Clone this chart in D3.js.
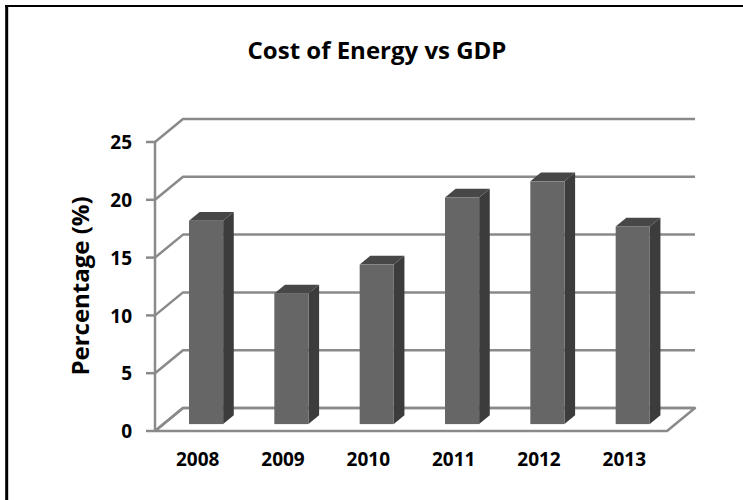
<!DOCTYPE html>
<html>
<head>
<meta charset="utf-8">
<script src="https://cdn.jsdelivr.net/npm/d3@7"></script>
<style>
  html, body { margin: 0; padding: 0; background: #fff; }
  svg { display: block; }
  text { font-family: "Open Sans", "DejaVu Sans", sans-serif; font-weight: 700; fill: #000; }
</style>
</head>
<body>
<script>
const categories = ["2008", "2009", "2010", "2011", "2012", "2013"];
const values = [17.6, 11.3, 13.8, 19.6, 21.0, 17.1];
const yTicks = [0, 5, 10, 15, 20, 25];
const chartTitle = "Cost of Energy vs GDP";
const yTitle = "Percentage (%)";

const W = 743, H = 500;
const svg = d3.select("body").append("svg").attr("width", W).attr("height", H);

// plot geometry (front plane)
const x0 = 155, x1 = 667, yBase = 431, yTop = 142;
const depthX = 28, depthY = 23;   // full depth offset of back wall
const f1 = 0.30, f2 = 0.68;       // bar front / back depth fractions

const x = d3.scaleBand().domain(categories).range([x0, x1]).paddingInner(0.6).paddingOuter(0.3);
const y = d3.scaleLinear().domain([0, 25]).range([yBase, yTop]);

const gridColor = "#8a8a8a";

// outer frame
svg.append("line").attr("x1", 5).attr("x2", W).attr("y1", 6).attr("y2", 6)
  .attr("stroke", "#000").attr("stroke-width", 2);
svg.append("line").attr("x1", 6.7).attr("x2", 6.7).attr("y1", 5).attr("y2", H)
  .attr("stroke", "#000").attr("stroke-width", 3);

// title
svg.append("text").attr("x", 377).attr("y", 59).attr("text-anchor", "middle")
  .attr("font-size", 24).text(chartTitle);

// floor
const floor = [[x0, yBase], [x1, yBase], [x1 + depthX, yBase - depthY], [x0 + depthX, yBase - depthY]];
svg.append("polygon").attr("points", floor.map(p => p.join(",")).join(" "))
  .attr("fill", "#fff").attr("stroke", gridColor).attr("stroke-width", 2.5).attr("stroke-linejoin", "round");

// gridlines: side wall diagonal + back wall horizontal
const grid = svg.append("g").attr("fill", "none").attr("stroke", gridColor).attr("stroke-width", 2.5)
  .attr("stroke-linejoin", "round");
yTicks.forEach(v => {
  grid.append("polyline").attr("points", [
    [x0, y(v)], [x0 + depthX, y(v) - depthY], [x1 + depthX, y(v) - depthY]
  ].map(p => p.join(",")).join(" "));
});

// front vertical axis with ticks
const axis = svg.append("g").attr("stroke", gridColor).attr("stroke-width", 2.5);
axis.append("line").attr("x1", x0).attr("x2", x0).attr("y1", y(25)).attr("y2", y(0));
yTicks.forEach(v => {
  axis.append("line").attr("x1", x0 - 9).attr("x2", x0).attr("y1", y(v)).attr("y2", y(v));
});

// tick labels
svg.append("g").selectAll("text").data(yTicks).join("text")
  .attr("x", 132).attr("y", d => y(d) + 0.5).attr("dy", "0.35em")
  .attr("text-anchor", "end").attr("font-size", 19).text(d => d);

// y title
svg.append("text").attr("transform", "translate(89,286) rotate(-90)")
  .attr("text-anchor", "middle").attr("font-size", 24).text(yTitle);

// bars
const bw = x.bandwidth();
const fdx = f1 * depthX, fdy = f1 * depthY;
const ddx = (f2 - f1) * depthX, ddy = (f2 - f1) * depthY;
const bars = svg.append("g");
categories.forEach((c, i) => {
  const bx = x(c) + fdx;
  const by0 = y(0) - fdy;
  const by1 = y(values[i]) - fdy;
  const g = bars.append("g");
  // side
  g.append("polygon").attr("points", [
    [bx + bw, by1], [bx + bw + ddx, by1 - ddy], [bx + bw + ddx, by0 - ddy], [bx + bw, by0]
  ].map(p => p.join(",")).join(" ")).attr("fill", "#3c3c3c");
  // top
  g.append("polygon").attr("points", [
    [bx, by1], [bx + ddx, by1 - ddy], [bx + bw + ddx, by1 - ddy], [bx + bw, by1]
  ].map(p => p.join(",")).join(" ")).attr("fill", "#474747");
  // front
  g.append("rect").attr("x", bx).attr("y", by1).attr("width", bw).attr("height", by0 - by1)
    .attr("fill", "#666666");
});

// category labels
svg.append("g").selectAll("text").data(categories).join("text")
  .attr("x", d => x(d) + bw / 2).attr("y", 459.5).attr("dy", "0.35em")
  .attr("text-anchor", "middle").attr("font-size", 19).text(d => d);
</script>
</body>
</html>
